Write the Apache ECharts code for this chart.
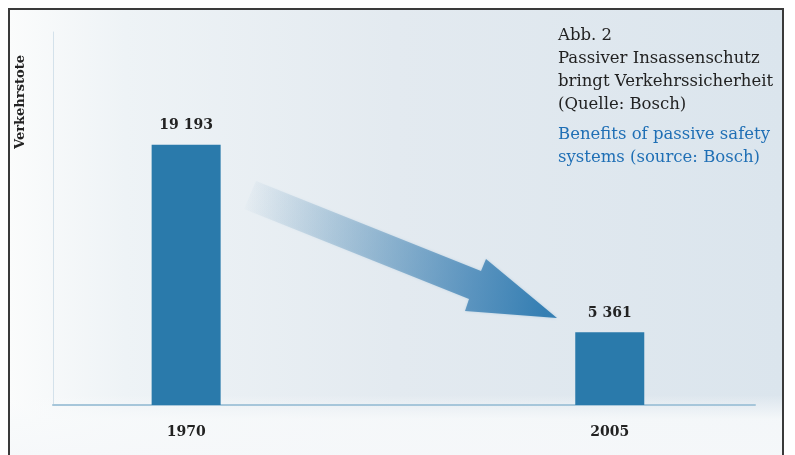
<!DOCTYPE html>
<html>
<head>
<meta charset="utf-8">
<style>
  html, body { margin: 0; padding: 0; background: #ffffff; }
  #chart { width: 795px; height: 455px; }
</style>
<script src="https://cdn.jsdelivr.net/npm/echarts@6/dist/echarts.min.js"></script>
</head>
<body>
<div id="chart"></div>
<script>
// Road deaths in Germany, 1970 vs 2005
const years = [1970, 2005];
const deaths = [19193, 5361];
const yAxisTitle = 'Verkehrstote';
const captionDe = ['Abb. 2', 'Passiver Insassenschutz', 'bringt Verkehrssicherheit', '(Quelle: Bosch)'];
const captionEn = ['Benefits of passive safety', 'systems (source: Bosch)'];

const chart = echarts.init(document.getElementById('chart'), null, { renderer: 'canvas' });

const fmt = v => String(v).replace(/\B(?=(\d{3})+(?!\d))/g, ' ');
const serif = '"DejaVu Serif", "Liberation Serif", serif';

const graphics = [
  // soft backdrop inside the frame
  {
    type: 'rect', z: -100, silent: true,
    shape: { x: 9, y: 9, width: 774, height: 446 },
    style: {
      fill: {
        type: 'linear', x: 0, y: 0, x2: 1, y2: 0,
        colorStops: [
          { offset: 0, color: '#fbfcfc' },
          { offset: 0.15, color: '#eef3f6' },
          { offset: 0.5, color: '#e3eaf0' },
          { offset: 1, color: '#dbe5ed' }
        ]
      }
    }
  },
  {
    type: 'rect', z: -99, silent: true,
    shape: { x: 9, y: 395, width: 774, height: 60 },
    style: {
      fill: {
        type: 'linear', x: 0, y: 0, x2: 0, y2: 1,
        colorStops: [
          { offset: 0, color: 'rgba(250,251,252,0)' },
          { offset: 0.4, color: 'rgba(248,250,251,0.85)' },
          { offset: 1, color: 'rgba(246,248,250,0.95)' }
        ]
      }
    }
  },
  // frame
  {
    type: 'polyline', z: 50, silent: true,
    shape: { points: [[9, 455], [9, 9], [783, 9], [783, 455]] },
    style: { stroke: '#3a3a3a', lineWidth: 2, fill: null }
  },
  // downward trend arrow
  {
    type: 'polygon', z: 1, silent: true,
    shape: {
      points: [[256, 181], [481, 271], [486, 259], [557, 318], [465, 311], [469, 299], [244, 209]]
    },
    style: {
      fill: {
        type: 'linear', x: 0, y: 0, x2: 1, y2: 0.35,
        colorStops: [
          { offset: 0, color: 'rgba(80,135,175,0)' },
          { offset: 0.3, color: 'rgba(75,135,178,0.3)' },
          { offset: 0.75, color: 'rgba(55,125,178,0.72)' },
          { offset: 1, color: 'rgba(42,120,175,0.92)' }
        ]
      },
      shadowBlur: 3,
      shadowColor: 'rgba(60,130,180,0.3)'
    }
  },
  // axis title
  {
    type: 'text', z: 20, silent: true,
    x: 21, y: 102, rotation: Math.PI / 2,
    style: {
      text: yAxisTitle, fill: '#222', font: 'bold 13px ' + serif,
      align: 'center', verticalAlign: 'middle'
    }
  }
];

const deTop = 36, lineH = 23;
captionDe.forEach((t, i) => {
  graphics.push({
    type: 'text', z: 20, silent: true, x: 558, y: deTop + i * lineH,
    style: { text: t, fill: '#222', font: '16.5px ' + serif, align: 'left', verticalAlign: 'middle' }
  });
});
captionEn.forEach((t, i) => {
  graphics.push({
    type: 'text', z: 20, silent: true, x: 558, y: 135 + i * lineH,
    style: { text: t, fill: '#1f6fb5', font: '16.5px ' + serif, align: 'left', verticalAlign: 'middle' }
  });
});

chart.setOption({
  animation: false,
  backgroundColor: 'transparent',
  grid: { left: 53, right: 40, top: 32, bottom: 50 },
  xAxis: {
    type: 'value', min: 1959, max: 2017,
    axisLine: { show: true, onZero: false, lineStyle: { color: '#a6c6da', width: 2 } },
    axisTick: { show: false },
    splitLine: { show: false },
    axisLabel: {
      customValues: years,
      margin: 20,
      color: '#222',
      fontFamily: serif, fontWeight: 'bold', fontSize: 14,
      formatter: v => String(v)
    }
  },
  yAxis: {
    type: 'value', min: 0, max: 27500,
    axisLine: { show: true, lineStyle: { color: 'rgba(190,210,225,0.6)', width: 1 } },
    axisTick: { show: false },
    axisLabel: { show: false },
    splitLine: { show: false }
  },
  series: [{
    type: 'bar',
    z: 5,
    barWidth: 69,
    data: years.map((y, i) => [y, deaths[i]]),
    itemStyle: { color: '#2a7aab' },
    label: {
      show: true, position: 'top', distance: 12,
      color: '#222', fontFamily: serif, fontWeight: 'bold', fontSize: 14,
      formatter: p => fmt(p.value[1])
    }
  }],
  graphic: graphics
});
</script>
</body>
</html>
